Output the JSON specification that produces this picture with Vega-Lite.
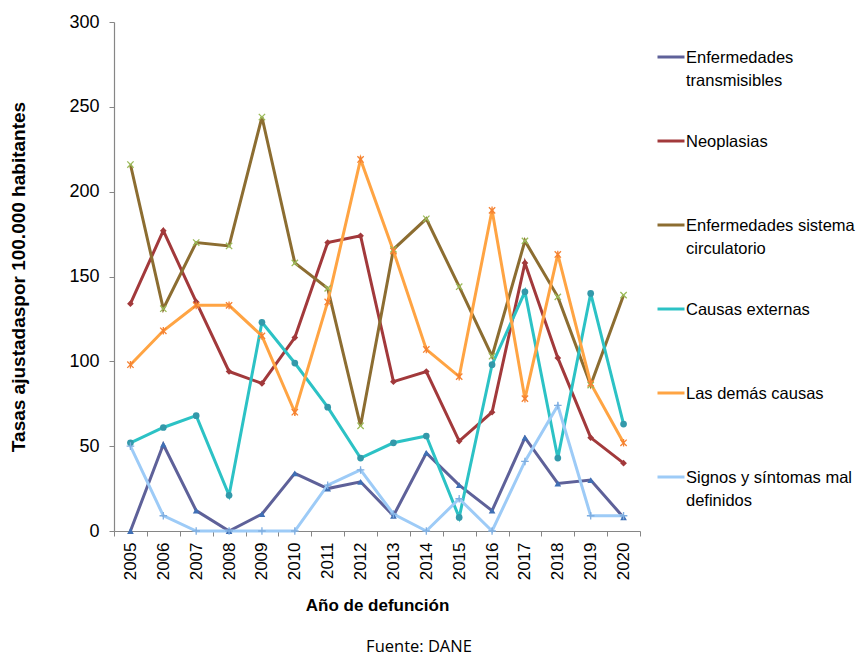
{
  "$schema": "https://vega.github.io/schema/vega-lite/v6.json",
  "autosize": {"type": "none"},
  "width": 526,
  "height": 509,
  "padding": {"left": 114, "top": 22, "right": 218, "bottom": 126},
  "background": "white",
  "config": {"view": {"stroke": null}, "font": "Liberation Sans"},
  "title": {"text": "Fuente: DANE", "orient": "bottom", "anchor": "middle", "font": "Open Sans", "fontSize": 16.5, "fontWeight": "normal", "color": "#000000", "offset": 25, "dx": 42},
  "data": {"values": [
    {"year": "2005", "serie": "Enfermedades transmisibles", "value": 0},
    {"year": "2006", "serie": "Enfermedades transmisibles", "value": 51},
    {"year": "2007", "serie": "Enfermedades transmisibles", "value": 12},
    {"year": "2008", "serie": "Enfermedades transmisibles", "value": 0},
    {"year": "2009", "serie": "Enfermedades transmisibles", "value": 10},
    {"year": "2010", "serie": "Enfermedades transmisibles", "value": 34},
    {"year": "2011", "serie": "Enfermedades transmisibles", "value": 25},
    {"year": "2012", "serie": "Enfermedades transmisibles", "value": 29},
    {"year": "2013", "serie": "Enfermedades transmisibles", "value": 9},
    {"year": "2014", "serie": "Enfermedades transmisibles", "value": 46},
    {"year": "2015", "serie": "Enfermedades transmisibles", "value": 27},
    {"year": "2016", "serie": "Enfermedades transmisibles", "value": 12},
    {"year": "2017", "serie": "Enfermedades transmisibles", "value": 55},
    {"year": "2018", "serie": "Enfermedades transmisibles", "value": 28},
    {"year": "2019", "serie": "Enfermedades transmisibles", "value": 30},
    {"year": "2020", "serie": "Enfermedades transmisibles", "value": 8},
    {"year": "2005", "serie": "Neoplasias", "value": 134},
    {"year": "2006", "serie": "Neoplasias", "value": 177},
    {"year": "2007", "serie": "Neoplasias", "value": 135},
    {"year": "2008", "serie": "Neoplasias", "value": 94},
    {"year": "2009", "serie": "Neoplasias", "value": 87},
    {"year": "2010", "serie": "Neoplasias", "value": 114},
    {"year": "2011", "serie": "Neoplasias", "value": 170},
    {"year": "2012", "serie": "Neoplasias", "value": 174},
    {"year": "2013", "serie": "Neoplasias", "value": 88},
    {"year": "2014", "serie": "Neoplasias", "value": 94},
    {"year": "2015", "serie": "Neoplasias", "value": 53},
    {"year": "2016", "serie": "Neoplasias", "value": 70},
    {"year": "2017", "serie": "Neoplasias", "value": 158},
    {"year": "2018", "serie": "Neoplasias", "value": 102},
    {"year": "2019", "serie": "Neoplasias", "value": 55},
    {"year": "2020", "serie": "Neoplasias", "value": 40},
    {"year": "2005", "serie": "Enfermedades sistema circulatorio", "value": 216},
    {"year": "2006", "serie": "Enfermedades sistema circulatorio", "value": 131},
    {"year": "2007", "serie": "Enfermedades sistema circulatorio", "value": 170},
    {"year": "2008", "serie": "Enfermedades sistema circulatorio", "value": 168},
    {"year": "2009", "serie": "Enfermedades sistema circulatorio", "value": 244},
    {"year": "2010", "serie": "Enfermedades sistema circulatorio", "value": 158},
    {"year": "2011", "serie": "Enfermedades sistema circulatorio", "value": 143},
    {"year": "2012", "serie": "Enfermedades sistema circulatorio", "value": 62},
    {"year": "2013", "serie": "Enfermedades sistema circulatorio", "value": 166},
    {"year": "2014", "serie": "Enfermedades sistema circulatorio", "value": 184},
    {"year": "2015", "serie": "Enfermedades sistema circulatorio", "value": 144},
    {"year": "2016", "serie": "Enfermedades sistema circulatorio", "value": 103},
    {"year": "2017", "serie": "Enfermedades sistema circulatorio", "value": 171},
    {"year": "2018", "serie": "Enfermedades sistema circulatorio", "value": 138},
    {"year": "2019", "serie": "Enfermedades sistema circulatorio", "value": 86},
    {"year": "2020", "serie": "Enfermedades sistema circulatorio", "value": 139},
    {"year": "2005", "serie": "Causas externas", "value": 52},
    {"year": "2006", "serie": "Causas externas", "value": 61},
    {"year": "2007", "serie": "Causas externas", "value": 68},
    {"year": "2008", "serie": "Causas externas", "value": 21},
    {"year": "2009", "serie": "Causas externas", "value": 123},
    {"year": "2010", "serie": "Causas externas", "value": 99},
    {"year": "2011", "serie": "Causas externas", "value": 73},
    {"year": "2012", "serie": "Causas externas", "value": 43},
    {"year": "2013", "serie": "Causas externas", "value": 52},
    {"year": "2014", "serie": "Causas externas", "value": 56},
    {"year": "2015", "serie": "Causas externas", "value": 8},
    {"year": "2016", "serie": "Causas externas", "value": 98},
    {"year": "2017", "serie": "Causas externas", "value": 141},
    {"year": "2018", "serie": "Causas externas", "value": 43},
    {"year": "2019", "serie": "Causas externas", "value": 140},
    {"year": "2020", "serie": "Causas externas", "value": 63},
    {"year": "2005", "serie": "Las demás causas", "value": 98},
    {"year": "2006", "serie": "Las demás causas", "value": 118},
    {"year": "2007", "serie": "Las demás causas", "value": 133},
    {"year": "2008", "serie": "Las demás causas", "value": 133},
    {"year": "2009", "serie": "Las demás causas", "value": 115},
    {"year": "2010", "serie": "Las demás causas", "value": 70},
    {"year": "2011", "serie": "Las demás causas", "value": 135},
    {"year": "2012", "serie": "Las demás causas", "value": 219},
    {"year": "2013", "serie": "Las demás causas", "value": 165},
    {"year": "2014", "serie": "Las demás causas", "value": 107},
    {"year": "2015", "serie": "Las demás causas", "value": 91},
    {"year": "2016", "serie": "Las demás causas", "value": 189},
    {"year": "2017", "serie": "Las demás causas", "value": 78},
    {"year": "2018", "serie": "Las demás causas", "value": 163},
    {"year": "2019", "serie": "Las demás causas", "value": 87},
    {"year": "2020", "serie": "Las demás causas", "value": 52},
    {"year": "2005", "serie": "Signos y síntomas mal definidos", "value": 50},
    {"year": "2006", "serie": "Signos y síntomas mal definidos", "value": 9},
    {"year": "2007", "serie": "Signos y síntomas mal definidos", "value": 0},
    {"year": "2008", "serie": "Signos y síntomas mal definidos", "value": 0},
    {"year": "2009", "serie": "Signos y síntomas mal definidos", "value": 0},
    {"year": "2010", "serie": "Signos y síntomas mal definidos", "value": 0},
    {"year": "2011", "serie": "Signos y síntomas mal definidos", "value": 27},
    {"year": "2012", "serie": "Signos y síntomas mal definidos", "value": 36},
    {"year": "2013", "serie": "Signos y síntomas mal definidos", "value": 10},
    {"year": "2014", "serie": "Signos y síntomas mal definidos", "value": 0},
    {"year": "2015", "serie": "Signos y síntomas mal definidos", "value": 19},
    {"year": "2016", "serie": "Signos y síntomas mal definidos", "value": 0},
    {"year": "2017", "serie": "Signos y síntomas mal definidos", "value": 41},
    {"year": "2018", "serie": "Signos y síntomas mal definidos", "value": 74},
    {"year": "2019", "serie": "Signos y síntomas mal definidos", "value": 9},
    {"year": "2020", "serie": "Signos y síntomas mal definidos", "value": 9}
  ]},
  "encoding": {
    "x": {
      "field": "year", "type": "ordinal",
      "scale": {"type": "band", "paddingInner": 0, "paddingOuter": 0},
      "axis": {
        "title": "Año de defunción", "titleFont": "Liberation Sans", "titleFontSize": 17, "titleFontWeight": "bold", "titleColor": "#000000", "titlePadding": 18,
        "labelAngle": -90, "labelFontSize": 17, "labelColor": "#000000", "labelPadding": 6,
        "tickBand": "extent", "tickSize": 5, "tickColor": "#868686", "domainColor": "#868686", "domainWidth": 1.2, "grid": false
      }
    },
    "y": {
      "field": "value", "type": "quantitative",
      "scale": {"domain": [0, 300], "nice": false},
      "axis": {
        "title": "Tasas ajustadaspor 100.000 habitantes", "titleFont": "Liberation Sans", "titleFontSize": 19, "titleFontWeight": "bold", "titleColor": "#000000", "titlePadding": 40,
        "values": [0, 50, 100, 150, 200, 250, 300], "labelFontSize": 18, "labelColor": "#000000", "labelPadding": 10,
        "tickSize": 5, "tickColor": "#868686", "domainColor": "#868686", "domainWidth": 1.2, "grid": false
      }
    }
  },
  "resolve": {"scale": {"shape": "independent"}, "legend": {"color": "independent", "shape": "independent"}},
  "layer": [
    {
      "mark": {"type": "line", "strokeWidth": 3, "strokeJoin": "miter"},
      "encoding": {
        "color": {
          "field": "serie", "type": "nominal",
          "scale": {
            "domain": ["Enfermedades transmisibles", "Neoplasias", "Enfermedades sistema circulatorio", "Causas externas", "Las demás causas", "Signos y síntomas mal definidos"],
            "range": ["#5E6199", "#A2393B", "#8C6D31", "#2CC2C5", "#FFA443", "#9DCBF7"]
          },
          "legend": {
            "title": null, "orient": "none", "legendX": 542, "legendY": 20,
            "symbolType": "stroke", "symbolSize": 729, "symbolStrokeWidth": 3, "symbolOffset": 0,
            "labelFont": "Liberation Sans", "labelFontSize": 16.5, "labelColor": "#000000", "labelOffset": 0, "labelLimit": 300,
            "labelBaseline": "alphabetic", "gridAlign": "all", "rowPadding": 36,
            "encode": {"labels": {"update": {"lineHeight": {"value": 23}, "dy": {"value": 6}}}},
            "labelExpr": "datum.label == 'Enfermedades transmisibles' ? ['Enfermedades', 'transmisibles'] : datum.label == 'Enfermedades sistema circulatorio' ? ['Enfermedades sistema', 'circulatorio'] : datum.label == 'Signos y síntomas mal definidos' ? ['Signos y síntomas mal', 'definidos'] : datum.label"
          }
        }
      }
    },
    {
      "transform": [{"filter": "indexof(['Enfermedades transmisibles', 'Neoplasias', 'Causas externas'], datum.serie) >= 0"}],
      "mark": {"type": "point", "filled": true, "opacity": 1},
      "encoding": {
        "shape": {"field": "serie", "type": "nominal",
          "scale": {"domain": ["Enfermedades transmisibles", "Neoplasias", "Causas externas"], "range": ["triangle-up", "diamond", "circle"]},
          "legend": null},
        "size": {"value": 45},
        "fill": {"field": "serie", "type": "nominal",
          "scale": {"domain": ["Enfermedades transmisibles", "Neoplasias", "Causas externas"], "range": ["#3F6FB5", "#A2393B", "#3399AA"]},
          "legend": null}
      }
    },
    {
      "transform": [{"filter": "indexof(['Enfermedades sistema circulatorio', 'Las demás causas', 'Signos y síntomas mal definidos'], datum.serie) >= 0"}],
      "mark": {"type": "point", "filled": false, "opacity": 1, "strokeWidth": 1.3},
      "encoding": {
        "shape": {"field": "serie", "type": "nominal",
          "scale": {"domain": ["Enfermedades sistema circulatorio", "Las demás causas", "Signos y síntomas mal definidos"], "range": ["M-1,-1L1,1M-1,1L1,-1", "M-1,-1L1,1M-1,1L1,-1M0,-1.2V1.2", "M-1.2,0H1.2M0,-1.2V1.2"]},
          "legend": null},
        "size": {"value": 40},
        "stroke": {"field": "serie", "type": "nominal",
          "scale": {"domain": ["Enfermedades sistema circulatorio", "Las demás causas", "Signos y síntomas mal definidos"], "range": ["#9BBB59", "#F58232", "#7FAEE0"]},
          "legend": null}
      }
    }
  ]
}
